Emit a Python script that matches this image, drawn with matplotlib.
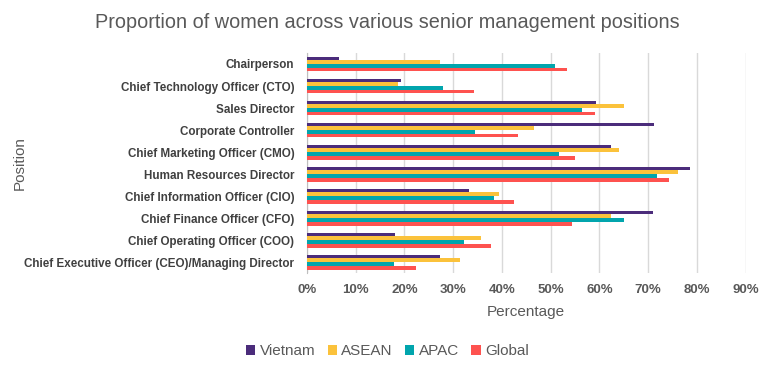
import matplotlib
matplotlib.use("Agg")
import matplotlib.pyplot as plt
import numpy as np
from matplotlib.ticker import PercentFormatter

plt.rcParams['font.family'] = ['Liberation Sans', 'DejaVu Sans']

positions = ["Chairperson", "Chief Technology Officer (CTO)", "Sales Director",
             "Corporate Controller", "Chief Marketing Officer (CMO)",
             "Human Resources Director", "Chief Information Officer (CIO)",
             "Chief Finance Officer (CFO)", "Chief Operating Officer (COO)",
             "Chief Executive Officer (CEO)/Managing Director"]
vietnam = [6.6, 19.3, 59.3, 71.3, 62.4, 78.5, 33.3, 71.0, 18.1, 27.3]
asean   = [27.3, 18.7, 65.0, 46.6, 64.0, 76.1, 39.4, 62.4, 35.7, 31.4]
apac    = [50.9, 27.9, 56.4, 34.4, 51.7, 71.8, 38.4, 65.0, 32.2, 17.9]
global_ = [53.3, 34.3, 59.1, 43.3, 55.0, 74.2, 42.5, 54.4, 37.8, 22.4]
series_names = ["Vietnam", "ASEAN", "APAC", "Global"]
colors = ["#4b2c7b", "#fbc23b", "#01a5ad", "#fe524f"]

fig = plt.figure(figsize=(7.75, 3.68), dpi=100)
ax = fig.add_axes([0.396, 0.258, 0.566, 0.598])

n = len(positions)
y = np.arange(n)
h = 0.17
for i, (vals, name, c) in enumerate(zip([vietnam, asean, apac, global_], series_names, colors)):
    ax.barh(y + (i - 1.5) * h, vals, height=h, color=c, label=name, zorder=3)

ax.set_yticks(y)
ax.set_yticklabels(positions, fontweight='bold', fontsize=8.4, color='#404040')
ax.set_ylim(n - 0.5, -0.5)
ax.set_xlim(0, 90)
ax.set_xticks(np.arange(0, 91, 10))
ax.xaxis.set_major_formatter(PercentFormatter(decimals=0))
for lab in ax.get_xticklabels():
    lab.set_fontweight('bold')
ax.tick_params(axis='x', labelsize=9.5, colors='#595959', length=0, pad=8)
ax.tick_params(axis='y', length=0, pad=9)
ax.grid(axis='x', color='#d9d9d9', linewidth=1, zorder=0)
for s in ['top', 'right', 'bottom']:
    ax.spines[s].set_visible(False)
ax.spines['left'].set_color('#bfbfbf')

ax.set_xlabel("Percentage", fontsize=11, color='#595959', labelpad=6)
fig.text(0.025, 0.557, "Position", rotation=90, fontsize=11, color='#595959', ha='center', va='center')
fig.text(0.5, 0.94, "Proportion of women across various senior management positions",
         fontsize=14.3, color='#595959', ha='center', va='center')

leg = fig.legend(loc='center', bbox_to_anchor=(0.5, 0.045), ncol=4, frameon=False,
                 fontsize=11, handlelength=0.6, handleheight=0.6, handletextpad=0.3,
                 columnspacing=0.8)
for t in leg.get_texts():
    t.set_color('#595959')

fig.savefig("out.png", dpi=100)
